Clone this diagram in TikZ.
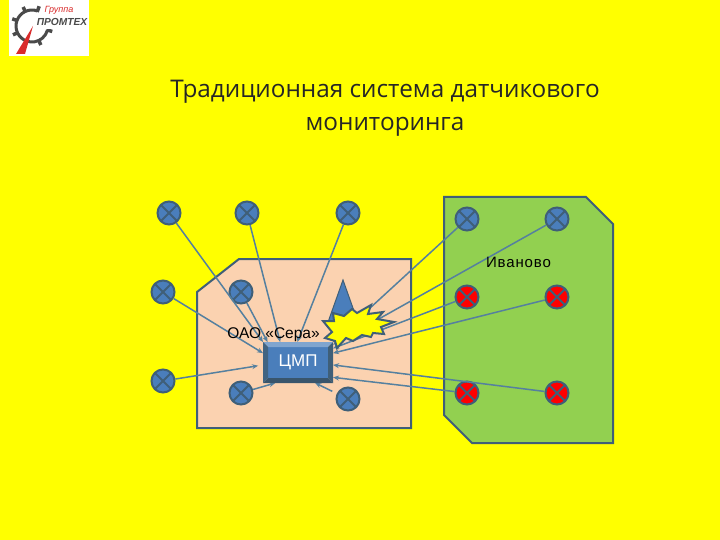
\documentclass[tikz,border=0pt]{standalone}
\usepackage{fontspec}
\setmainfont{Liberation Sans}
\newfontfamily\titlefont{Open Sans}
\usetikzlibrary{positioning,arrows.meta,calc}
\definecolor{pagebg}{HTML}{FFFF00}
\definecolor{peach}{HTML}{FBD2B0}
\definecolor{leaf}{HTML}{92D050}
\definecolor{edge}{HTML}{3F5F78}
\definecolor{wire}{HTML}{55809F}
\definecolor{sensorblue}{HTML}{4A7EBB}
\definecolor{gearink}{HTML}{4A4A4A}
\definecolor{logored}{HTML}{D92B2B}

\begin{document}
\begin{tikzpicture}[x=1pt,y=-1pt,
  zone/.style={draw=edge,line width=2pt,line join=miter},
  sensor/.style={circle,draw=edge,line width=2pt,fill=sensorblue,minimum size=23pt,inner sep=0pt,
    path picture={\draw[edge,line width=2pt] (path picture bounding box.north west) -- (path picture bounding box.south east)
      (path picture bounding box.north east) -- (path picture bounding box.south west);}},
  alarm/.style={sensor,fill=red},
  link/.style={-{Stealth[length=6pt,width=5pt]},draw=wire,line width=1.5pt},
  caption/.style={font=\fontsize{15.5}{15.5}\selectfont,text=black,inner sep=0pt}]
  \useasboundingbox (0,0) rectangle (720,540);
  \fill[pagebg] (0,0) rectangle (720,540);

  % logo
  \fill[white] (9,0) rectangle (89,56);
  \coordinate (gear) at (32,26);
  \draw[gearink,line width=3pt] (gear) ++(-70:16) arc[start angle=-70,end angle=-345,radius=16];
  \foreach \a in {-70,-115,-160,-205,-250,-295,-345} \draw[gearink,line width=3.5pt] (gear) ++(\a:15) -- ++(\a:6);
  \fill[logored] (16,54) -- (33,26) -- (25,54) -- cycle;
  \fill[white] (36,15) rectangle (88,29);
  \node[font=\bfseries\itshape\fontsize{10.2}{10}\selectfont,text=gearink,inner sep=0pt] (firm) at (62,22) {ПРОМТЕХ};
  \node[font=\itshape\fontsize{9}{9}\selectfont,text=logored,inner sep=0pt] (group) at (59,10) {Группа};

  % title
  \node[font=\titlefont\fontsize{24.3}{33}\selectfont,align=center,text=black!85,inner sep=0pt] (title) at (385,108.5)
    {Традиционная система датчикового\\мониторинга};

  % zones
  \draw[zone,fill=peach] (197,292) -- (239,259) -- (411,259) -- (411,428) -- (197,428) -- cycle;
  \draw[zone,fill=leaf] (444,197) -- (586,197) -- (613,224) -- (613,443) -- (472,443) -- (444,415) -- cycle;

  % sensors
  \foreach \n/\x/\y in {s1/169/213,s2/247/213,s3/348/213,s4/163/292,s5/241/292,s6/163/381,s7/241/393,s8/348/399,i1/467/219,i2/557/219}
    \node[sensor] (\n) at (\x,\y) {};
  \foreach \n/\x/\y in {r1/467/297,r2/557/297,r3/467/393,r4/557/393}
    \node[alarm] (\n) at (\x,\y) {};

  % centre box, faces first so the wires can end on it
  \node[minimum width=70pt,minimum height=41pt,inner sep=0pt,outer sep=0pt] (cmp) at (298,362.5) {};
  \foreach \n/\a in {s1/north west,s2/131,s3/92,s4/165,s5/146,s7/222,i1/north east,i2/27,r1/22,r2/15,r4/356,r3/337}
    \draw[link] (\n) -- (cmp.\a);
  \draw[link,shorten >=5pt] (s6) -- (cmp.184);
  \draw[link,shorten <=5pt] (s8) -- (cmp.310);

  % burst
  \fill[sensorblue,draw=edge,line width=1pt] (343,280) -- (327,325) -- (359,325) -- cycle;
  \draw[fill=pagebg,draw=edge,line width=2pt,line join=miter] (323,321) -- (334,321) -- (333,313) -- (344,316) -- (352,309) -- (357,313)
    -- (371,305) -- (368,314) -- (383,312) -- (377,319) -- (394,322) -- (381,327) -- (384,334) -- (373,333) -- (371,337)
    -- (362,335) -- (353,341) -- (346,338) -- (337,348) -- (335,341) -- (325,338) -- (332,332) -- cycle;

  % centre box bevel
  \node[fill=sensorblue,minimum width=60pt,minimum height=31pt,inner sep=0pt,outer sep=0pt,text=white,
    font=\fontsize{17}{17}\selectfont] (cmpface) at (cmp) {ЦМП};
  \fill[sensorblue!70!white] (cmp.north west) -- (cmp.north east) -- (cmpface.north east) -- (cmpface.north west) -- cycle;
  \fill[edge!85!sensorblue] (cmp.north west) -- (cmp.south west) -- (cmpface.south west) -- (cmpface.north west) -- cycle;
  \fill[edge] (cmp.north east) -- (cmp.south east) -- (cmpface.south east) -- (cmpface.north east) -- cycle;
  \fill[edge!90!black] (cmp.south west) -- (cmp.south east) -- (cmpface.south east) -- (cmpface.south west) -- cycle;

  % labels
  \node[caption] (sera) at (273.5,335) {ОАО «Сера»};
  \node[caption,font=\fontsize{15}{15}\selectfont] (town) at (518.5,262) {И\hspace{0.8pt}в\hspace{0.8pt}а\hspace{0.8pt}н\hspace{0.8pt}о\hspace{0.8pt}в\hspace{0.8pt}о};
\end{tikzpicture}
\end{document}
